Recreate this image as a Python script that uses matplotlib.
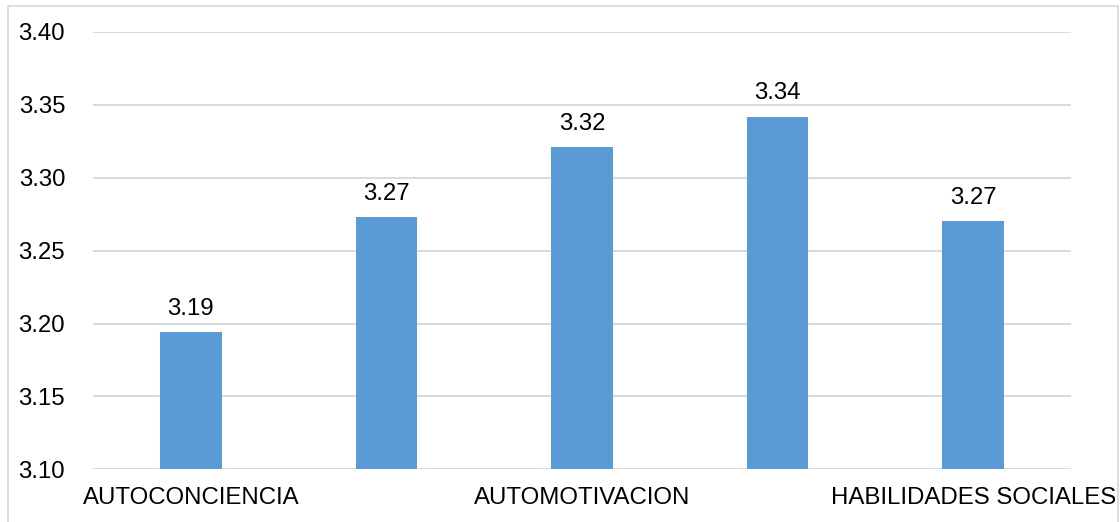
import matplotlib
matplotlib.use("Agg")
import matplotlib.pyplot as plt
from matplotlib.patches import Rectangle

# Emotional intelligence dimensions and their mean scores
categories = ["AUTOCONCIENCIA", "AUTORREGULACION", "AUTOMOTIVACION", "EMPATIA", "HABILIDADES SOCIALES"]
scores = [3.194, 3.273, 3.321, 3.342, 3.270]
tick_labels = ["AUTOCONCIENCIA", "", "AUTOMOTIVACION", "", "HABILIDADES SOCIALES"]
y_ticks = [3.10, 3.15, 3.20, 3.25, 3.30, 3.35, 3.40]

plt.rcParams["font.family"] = ["Liberation Sans", "DejaVu Sans"]

fig = plt.figure(figsize=(11.2, 5.22), dpi=100)
ax = fig.add_axes([93 / 1120, 1 - 469.3 / 522, (1071 - 93) / 1120, (469.3 - 32) / 522])

x = list(range(len(categories)))
bars = ax.bar(x, scores, width=0.314, color="#5B9BD5", zorder=3)

for xi, val in zip(x, scores):
    ax.annotate(f"{val:.2f}", xy=(xi, val), xytext=(0, 9), textcoords="offset points",
                ha="center", va="bottom", fontsize=17.3, color="#000000")

ax.set_xlim(-0.5, len(categories) - 0.5)
ax.set_ylim(y_ticks[0], y_ticks[-1])
ax.set_yticks(y_ticks)
ax.set_yticklabels([f"{t:.2f}" for t in y_ticks])
ax.set_xticks(x)
ax.set_xticklabels(tick_labels)

ax.tick_params(axis="y", length=0, pad=20, labelsize=17.3, labelcolor="#000000")
ax.tick_params(axis="x", length=0, pad=12.5, labelsize=17.3, labelcolor="#000000")

ax.grid(axis="y", color="#D9D9D9", linewidth=1.4, zorder=0)
ax.set_axisbelow(True)
for s in ax.spines.values():
    s.set_visible(False)

# Light frame around the chart area
fig.patches.append(Rectangle((8 / 1120, -0.02), 1110 / 1120, 1.02 - 6 / 522,
                             transform=fig.transFigure, fill=False,
                             edgecolor="#D9D9D9", linewidth=1.3))

fig.savefig("out.png", dpi=100, facecolor="white")
